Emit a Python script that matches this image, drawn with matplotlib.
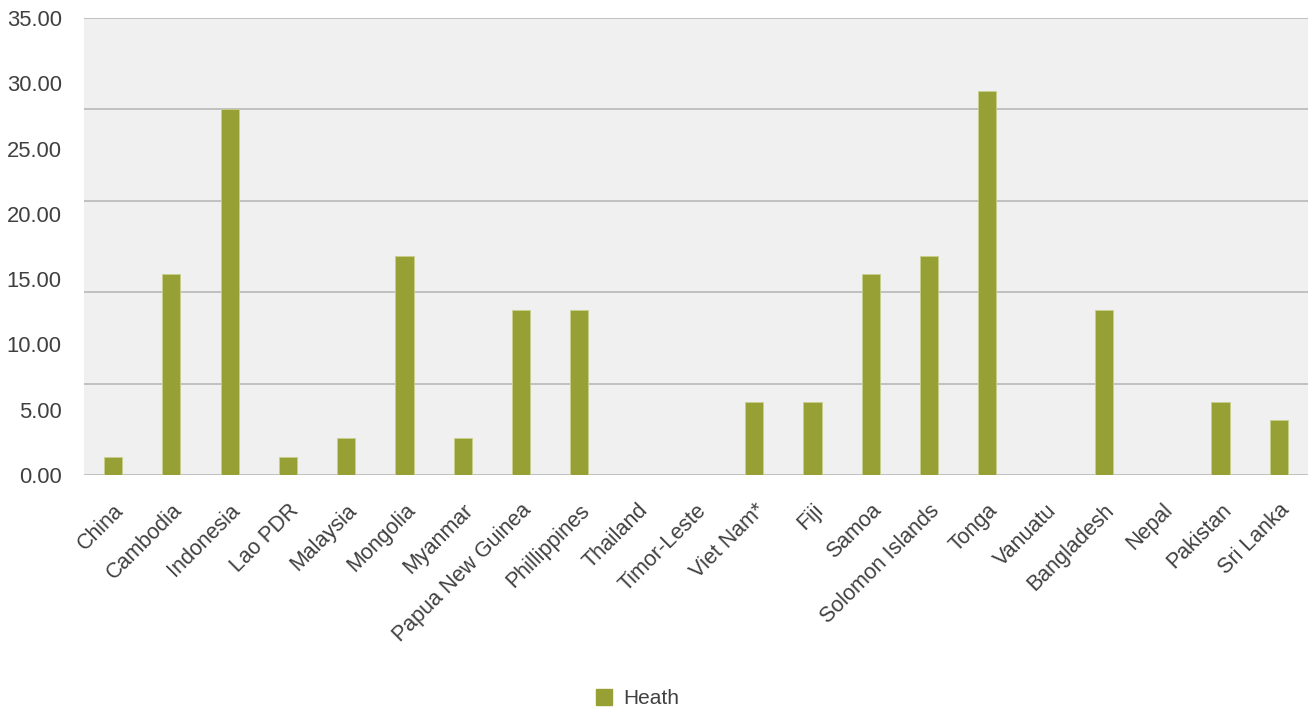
import matplotlib.pyplot as plt
from matplotlib.patches import Patch

plt.rcParams['font.family'] = ['Liberation Sans', 'DejaVu Sans']

countries = ["China", "Cambodia", "Indonesia", "Lao PDR", "Malaysia", "Mongolia",
             "Myanmar", "Papua New Guinea", "Phillippines", "Thailand", "Timor-Leste",
             "Viet Nam*", "Fiji", "Samoa", "Solomon Islands", "Tonga", "Vanuatu",
             "Bangladesh", "Nepal", "Pakistan", "Sri Lanka"]
heath = [1.4, 15.4, 28.0, 1.4, 2.8, 16.8, 2.8, 12.6, 12.6, 0, 0,
         5.6, 5.6, 15.4, 16.8, 29.4, 0, 12.6, 0, 5.6, 4.2]
y_labels = [0, 5, 10, 15, 20, 25, 30, 35]
grid_vals = [0, 7, 14, 21, 28, 35]

bar_color = "#96a035"
text_color = "#404040"

fig = plt.figure(figsize=(13.14, 7.11), dpi=100)
ax = fig.add_axes([0.0639, 0.332, 0.9315, 0.6427])
ax.set_facecolor("#f0f0f0")

x = range(len(countries))
ax.bar(x, heath, width=0.31, color=bar_color, edgecolor="#c8d08a", linewidth=0.6, zorder=3)

for g in grid_vals:
    ax.axhline(g, color="#bdbdbd", linewidth=1.3, zorder=2)

ax.set_xlim(-0.5, len(countries) - 0.5)
ax.set_ylim(0, 35)
ax.set_yticks(y_labels)
ax.set_yticklabels([f"{v:.2f}" for v in y_labels], fontsize=15.8, color=text_color)
ax.set_xticks(list(x))
ax.set_xticklabels(countries, rotation=45, ha="right", rotation_mode="anchor",
                   fontsize=15.5, color=text_color)
ax.tick_params(axis="both", length=0)
ax.tick_params(axis="y", pad=16)
ax.tick_params(axis="x", pad=18)
for lbl in ax.get_xticklabels():
    lbl.set_x(lbl.get_position()[0])
for s in ax.spines.values():
    s.set_visible(False)

fig.legend(handles=[Patch(color=bar_color, label="Heath")], loc="center",
           bbox_to_anchor=(0.485, 0.018), frameon=False, fontsize=15,
           handlelength=0.8, handleheight=0.8, handletextpad=0.5,
           labelcolor=text_color)

fig.savefig("out.png", dpi=100)
